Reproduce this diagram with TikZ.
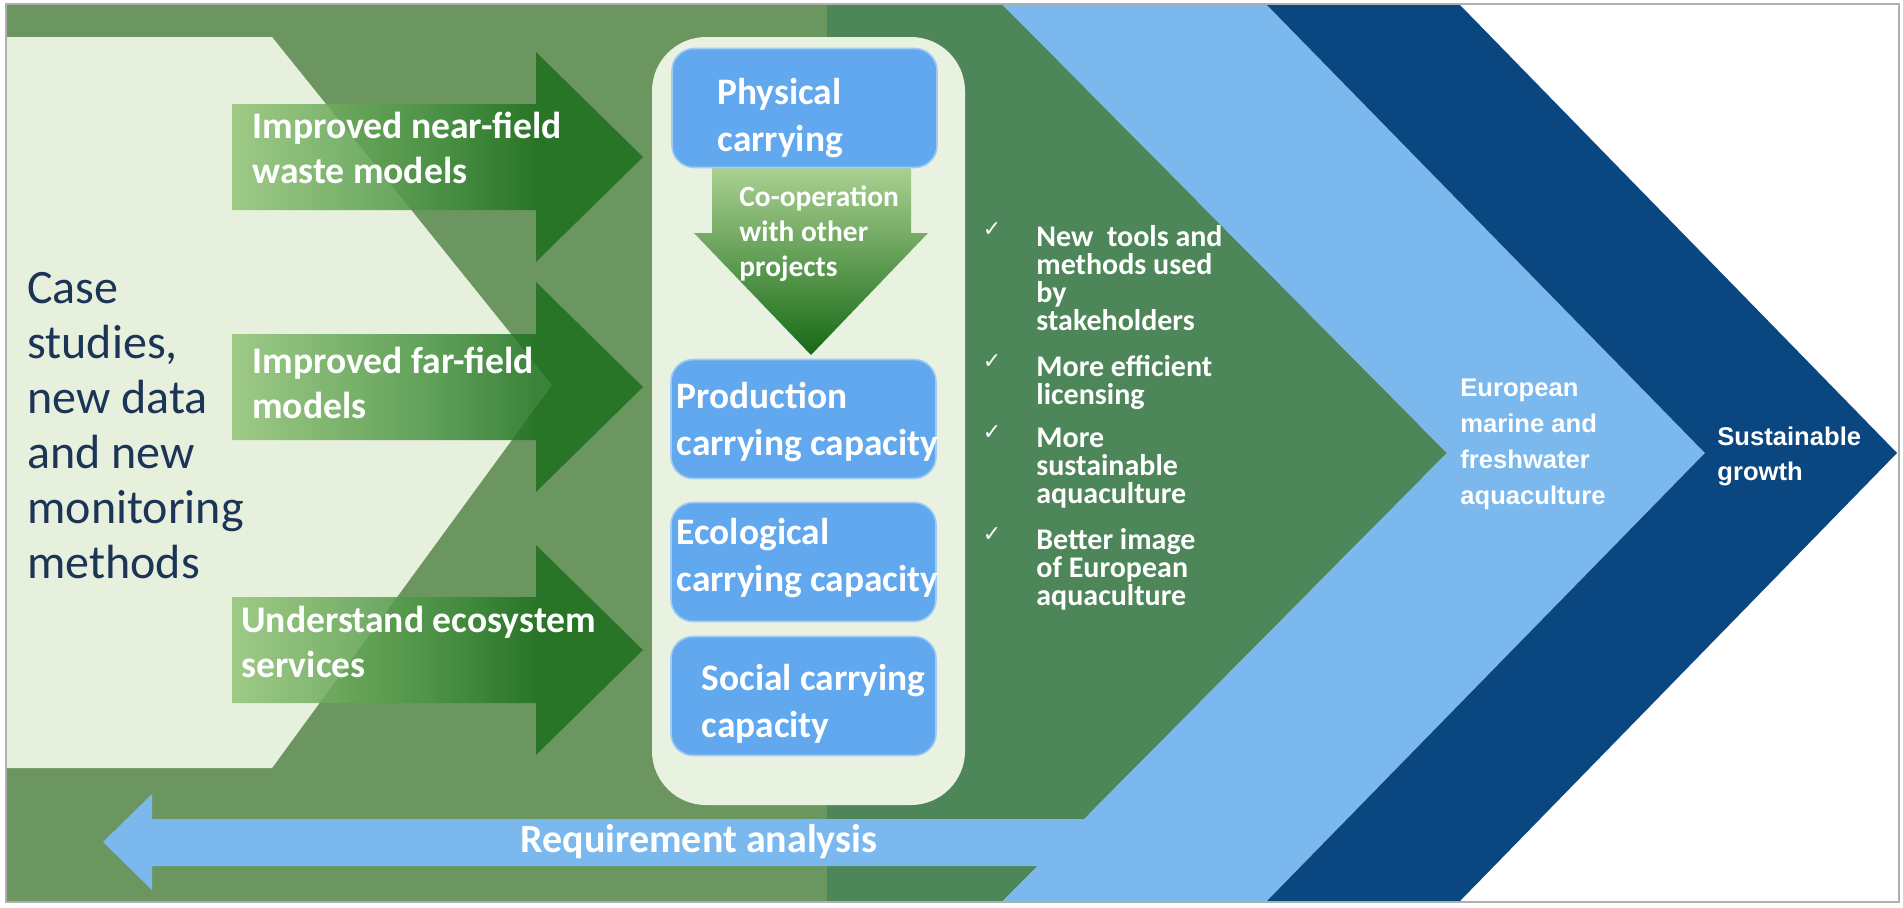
\documentclass[tikz,border=0pt]{standalone}
\usepackage{tikz}
\usepackage{xcolor}
\usepackage{fontspec}
\setmainfont{Carlito}
\newfontfamily\chevfont{Liberation Sans}
\newfontfamily\tickfont{DejaVu Sans}
\definecolor{bgolive}{RGB}{108,150,96}
\definecolor{bggreen}{RGB}{77,134,88}
\definecolor{chevblue}{RGB}{122,184,238}
\definecolor{chevnavy}{RGB}{10,70,128}
\definecolor{paleleaf}{RGB}{230,240,220}
\definecolor{cappale}{RGB}{233,241,224}
\definecolor{capblue}{RGB}{98,168,238}
\definecolor{casenavy}{RGB}{28,52,86}
\definecolor{arlight}{RGB}{146,196,120}
\definecolor{armid}{RGB}{70,145,65}
\definecolor{ardark}{RGB}{30,112,30}
\definecolor{cooplight}{RGB}{170,208,145}
\definecolor{coopmid}{RGB}{105,168,92}
\definecolor{coopdark}{RGB}{22,105,22}
\definecolor{framegray}{RGB}{175,175,175}
\usetikzlibrary{positioning}
\pgfdeclarehorizontalshading{fieldarrow}{100bp}{color(0bp)=(arlight); color(25bp)=(arlight); color(50bp)=(armid); color(62bp)=(ardark); color(100bp)=(ardark)}
\newcommand{\gaincheck}{{\tickfont ✓}}
\newcommand{\capname}[1]{\textbf{\textcolor{white}{#1}}}

\begin{document}
\begin{tikzpicture}[x=0.5pt,y=-0.5pt,
        capbox/.style={fill=capblue, draw=capblue!60!white, line width=0.8pt, rounded corners=11pt, minimum width=132.5pt, minimum height=59.5pt, inner sep=0pt},
        caplabel/.style={font=\fontsize{18.7}{23.5}\selectfont, align=left, inner sep=0pt},
        fieldlabel/.style={text=white, font=\bfseries\fontsize{18.8}{22.5}\selectfont, align=left, inner sep=0pt, anchor=west},
        fieldshape/.style={shading=fieldarrow, fill opacity=0.85},
        gainlabel/.style={text=white, font=\bfseries\fontsize{15}{14}\selectfont, align=left, inner sep=0pt, anchor=west},
        gaintick/.style={text=white, font=\fontsize{11}{11}\selectfont, inner sep=0pt},
        chevlabel/.style={text=white, font=\chevfont\bfseries\fontsize{12.8}{18}\selectfont, align=left, inner sep=0pt, anchor=west}
    ]
                \useasboundingbox (0,0) rectangle (1903,907);
                \fill[white] (0,0) rectangle (1903,907);
                \fill[bgolive] (6,5) rectangle (827,901);
                \fill[bggreen] (827,5) -- (1003,5) -- (1447,453) -- (1003,901) -- (827,901) -- cycle;
                \fill[chevblue] (1003,5) -- (1267,5) -- (1705,453) -- (1267,901) -- (1003,901) -- (1447,453) -- cycle;
                \fill[chevnavy] (1267,5) -- (1460,5) -- (1897,453) -- (1460,901) -- (1267,901) -- (1705,453) -- cycle;
                \fill[paleleaf] (6,37) -- (272,37) -- (552,385) -- (272,768) -- (6,768) -- cycle;

                \fill[chevblue] (103,842) -- (152,794) -- (152,819) -- (1100,819) -- (1100,866) -- (152,866) -- (152,890) -- cycle;
                \node[text=white, font=\bfseries\fontsize{20}{24}\selectfont, inner sep=0pt] (reqlbl) at (699,842) {Requirement analysis};

                \node[text=casenavy, font=\fontsize{24}{27.5}\selectfont, align=left, inner sep=0pt, anchor=west] (cases) at (27,426)
                    {Case\\studies,\\new data\\and new\\monitoring\\methods};

                \foreach \cy in {157,387,650}
                    \shade[fieldshape] (232,\cy-53) -- (536,\cy-53) -- (536,\cy-105) -- (643,\cy) -- (536,\cy+105) -- (536,\cy+53) -- (232,\cy+53) -- cycle;
                \node[fieldlabel] (nearlbl) at (252,148) {Improved near-field\\waste models};
                \node[fieldlabel] (farlbl) at (252,383) {Improved far-field\\models};
                \node[fieldlabel] (ecolbl) at (241,642) {Understand ecosystem\\services};

                \node[fill=cappale, rounded corners=27pt, minimum width=156.5pt, minimum height=384pt, inner sep=0pt] (capframe) at (808.5,421) {};
                \shade[top color=cooplight, middle color=coopmid, bottom color=coopdark] (712,168) -- (911,168) -- (911,233) -- (928,233) -- (811,355) -- (694,233) -- (712,233) -- cycle;
                \node[text=white, font=\bfseries\fontsize{14.7}{17.5}\selectfont, align=left, inner sep=0pt, anchor=west] (cooplbl) at (739,234)
                    {Co-operation\\with other\\projects};

                \node[capbox] (phys) at (804.5,108) {};
                \node[capbox] (prod) at (803.5,419) {};
                \node[capbox] (ecol) at (803.5,562) {};
                \node[capbox] (soc) at (803.5,696) {};
                \node[caplabel, right=23pt of phys.west, yshift=-5pt] (physlbl) {\capname{Physical}\\\capname{carrying}};
                \node[caplabel, right=3pt of prod.west, yshift=-1.5pt] (prodlbl) {\capname{Production}\\\capname{carrying capacity}};
                \node[caplabel, right=3pt of ecol.west, yshift=2pt] (ecollbl) {\capname{Ecological}\\\capname{carrying capacity}};
                \node[caplabel, right=15.5pt of soc.west, yshift=-4pt] (soclbl) {\capname{Social carrying}\\\capname{capacity}};

                \foreach \ty [count=\i] in {230,362,433,535}
                    \node[gaintick] (tick\i) at (992,\ty) {\gaincheck};
                \node[gainlabel] (gain1) at (1036,278) {New\ \ tools and\\methods used\\by\\stakeholders};
                \node[gainlabel] (gain2) at (1036,382) {More efficient\\licensing};
                \node[gainlabel] (gain3) at (1036,468) {More\\sustainable\\aquaculture};
                \node[gainlabel] (gain4) at (1036,569) {Better image\\of European\\aquaculture};

                \node[chevlabel] (eurolbl) at (1460,444) {European\\marine and\\freshwater\\aquaculture};
                \node[chevlabel, font=\chevfont\bfseries\fontsize{12.8}{17.5}\selectfont] (growlbl) at (1717,456) {Sustainable\\growth};

                \draw[framegray, line width=0.6pt] (6,4) rectangle (1899,902);
            \end{tikzpicture}
\end{document}
